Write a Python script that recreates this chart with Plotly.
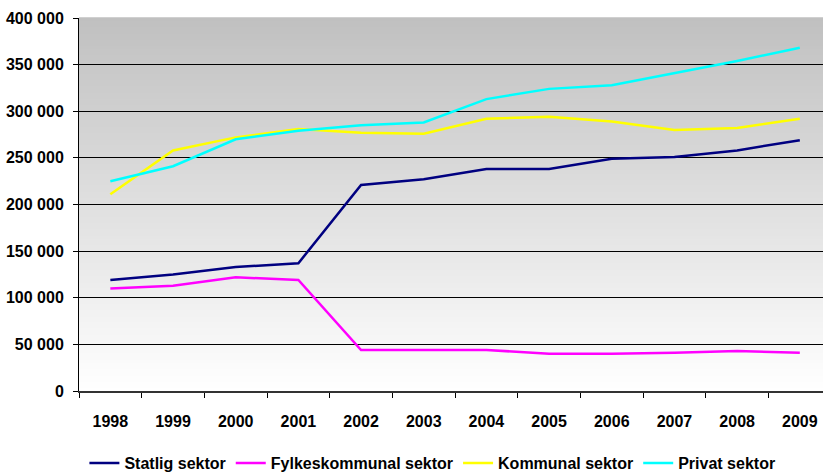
import plotly.graph_objects as go

years = ["1998", "1999", "2000", "2001", "2002", "2003", "2004", "2005", "2006", "2007", "2008", "2009"]
statlig = [119000, 125000, 133000, 137000, 221000, 227000, 238000, 238000, 249000, 251000, 258000, 269000]
fylkeskommunal = [110000, 113000, 122000, 119000, 44000, 44000, 44000, 40000, 40000, 41000, 43000, 41000]
kommunal = [211000, 258000, 272000, 281000, 277000, 276000, 292000, 294000, 289000, 280000, 282000, 292000]
privat = [225000, 241000, 270000, 279000, 285000, 288000, 313000, 324000, 328000, 341000, 354000, 368000]

series = [
    ("Statlig sektor", statlig, "#000080"),
    ("Fylkeskommunal sektor", fylkeskommunal, "#FF00FF"),
    ("Kommunal sektor", kommunal, "#FFFF00"),
    ("Privat sektor", privat, "#00FFFF"),
]

fig = go.Figure()
for name, vals, col in series:
    fig.add_trace(go.Scatter(x=years, y=vals, name=name, mode="lines",
                             line=dict(color=col, width=2.5)))

# gradient background strips
n = 120
shapes = []
for i in range(n):
    y0 = i / n
    y1 = (i + 1) / n
    t = (i + 0.5) / n  # 0 bottom -> 1 top
    v = int(round(255 - 63 * t))
    shapes.append(dict(type="rect", xref="x domain", yref="y domain",
                       x0=0, x1=1, y0=y0, y1=y1 + 0.002,
                       fillcolor=f"rgb({v},{v},{v})", line=dict(width=0),
                       layer="below"))

font = dict(family="Liberation Sans, Arial, sans-serif", size=16, color="black", weight="bold")

fig.update_layout(
    width=823, height=474,
    margin=dict(l=79, r=0, t=18, b=83, autoexpand=False),
    paper_bgcolor="white",
    plot_bgcolor="rgba(0,0,0,0)",
    separators=", ",
    font=font,
    shapes=shapes,
    showlegend=True,
    legend=dict(orientation="h", x=0.475, xanchor="center", xref="paper",
                y=-0.193, yanchor="middle", yref="paper",
                font=font, itemwidth=30, tracegroupgap=0,
                bgcolor="rgba(0,0,0,0)"),
    xaxis=dict(type="category", range=[-0.5, 11.37], showgrid=False,
               showline=True, linecolor="#333333", linewidth=1.5,
               ticks="outside", tickson="boundaries", ticklen=5, tickcolor="black",
               tickfont=font, ticklabelstandoff=15, zeroline=False),
    yaxis=dict(range=[0, 400000], tickvals=list(range(0, 400001, 50000)),
               tickformat=",d", showgrid=True, gridcolor="black", gridwidth=1,
               showline=True, linecolor="black", linewidth=1,
               ticks="outside", ticklen=5, tickcolor="black",
               tickfont=font, zeroline=False, ticklabelstandoff=6),
)

fig.write_html("out.html",
               config={"displayModeBar": False},
               post_script="document.body.style.margin='0';document.body.style.overflow='hidden';")
